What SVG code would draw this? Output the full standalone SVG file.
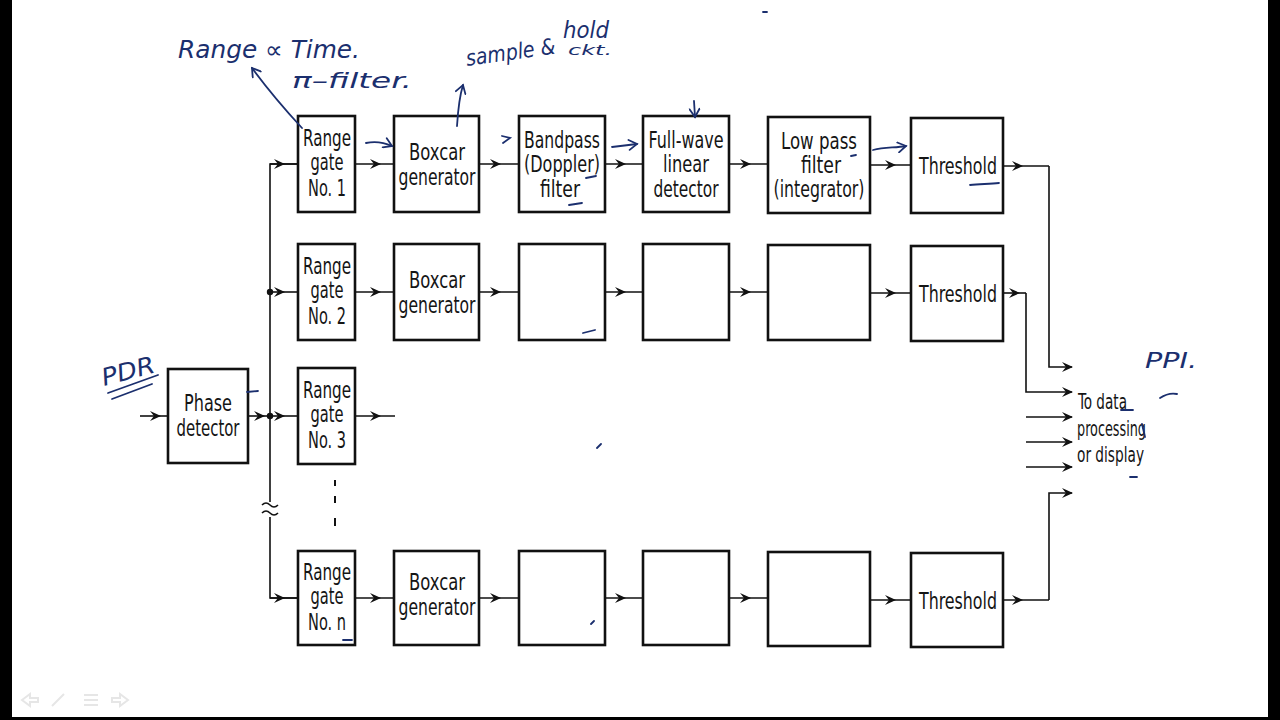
<svg xmlns="http://www.w3.org/2000/svg" width="1280" height="720" viewBox="0 0 1280 720">
<defs>
<style>
.bx{fill:#fff;stroke:#111;stroke-width:2.6}
.ln{fill:none;stroke:#111;stroke-width:1.6}
.t{font-family:"DejaVu Sans Condensed","Liberation Sans Narrow","Liberation Sans",sans-serif;font-size:23px;fill:#151515;text-anchor:middle}
.o{font-family:"DejaVu Sans Condensed","Liberation Sans Narrow","Liberation Sans",sans-serif;font-size:21px;fill:#151515}
.h{font-family:"DejaVu Sans","Liberation Sans",sans-serif;font-style:italic;fill:#1b2f6e}
.hs{fill:none;stroke:#1b2f6e;stroke-width:1.8;stroke-linecap:round}
</style>
<marker id="ah" viewBox="-12 -6 14 12" refX="0" refY="0" markerWidth="14" markerHeight="12" orient="auto" markerUnits="userSpaceOnUse">
<path d="M1,0 L-10,-5 L-6,0 L-10,5 Z" fill="#111"/>
</marker>
<marker id="hah" viewBox="-10 -6 12 12" refX="0" refY="0" markerWidth="12" markerHeight="12" orient="auto" markerUnits="userSpaceOnUse">
<path d="M-8,-5 L0,0 L-8,5" fill="none" stroke="#1b2f6e" stroke-width="1.8" stroke-linecap="round"/>
</marker>
</defs>
<rect x="0" y="0" width="1280" height="720" fill="#000"/>
<rect x="12" y="0" width="1256" height="717" fill="#fff"/>

<g id="connectors">
<path class="ln" d="M140,416 L160,416 L168,416" marker-mid="url(#ah)"/>
<path class="ln" d="M248,416 L264,416 L270,416" marker-mid="url(#ah)"/>
<path class="ln" d="M270,502 L270,164 L298,164"/>
<path class="ln" d="M270,164 L284,164 L298,164" marker-mid="url(#ah)"/>
<path class="ln" d="M270,517 L270,598 L298,598"/>
<path class="ln" d="M270,598 L284,598 L298,598" marker-mid="url(#ah)"/>
<path class="ln" d="M262,505 q4,-4 8,0 q4,4 8,0 M262,513 q4,-4 8,0 q4,4 8,0"/>
<path class="ln" d="M270,292 L284,292 L298,292" marker-mid="url(#ah)"/>
<path class="ln" d="M270,416 L284,416 L298,416" marker-mid="url(#ah)"/>
<circle cx="270" cy="292" r="3.2" fill="#111"/>
<circle cx="270" cy="416" r="3.2" fill="#111"/>
<path class="ln" d="M355,416 L380,416 L395,416" marker-mid="url(#ah)"/>
<path d="M335,480 v6 M335,496 v7 M335,518 v8" stroke="#111" stroke-width="2"/>
<!-- row 1 -->
<path class="ln" d="M355,164 L380,164 L394,164" marker-mid="url(#ah)"/>
<path class="ln" d="M479,164 L500,164 L519,164" marker-mid="url(#ah)"/>
<path class="ln" d="M605,164 L625,164 L643,164" marker-mid="url(#ah)"/>
<path class="ln" d="M729,164 L750,164 L768,164" marker-mid="url(#ah)"/>
<path class="ln" d="M870,165 L895,165 L911,165" marker-mid="url(#ah)"/>
<path class="ln" d="M1003,166 L1022,166 L1049,166" marker-mid="url(#ah)"/>
<path class="ln" d="M1049,166 L1049,367 L1072,367" marker-end="url(#ah)"/>
<!-- row 2 -->
<path class="ln" d="M355,292 L380,292 L394,292" marker-mid="url(#ah)"/>
<path class="ln" d="M479,292 L500,292 L519,292" marker-mid="url(#ah)"/>
<path class="ln" d="M605,292 L625,292 L643,292" marker-mid="url(#ah)"/>
<path class="ln" d="M729,292 L750,292 L768,292" marker-mid="url(#ah)"/>
<path class="ln" d="M870,293 L895,293 L911,293" marker-mid="url(#ah)"/>
<path class="ln" d="M1003,293 L1019,293 L1026,293" marker-mid="url(#ah)"/>
<path class="ln" d="M1026,293 L1026,392 L1072,392" marker-end="url(#ah)"/>
<!-- free outputs -->
<path class="ln" d="M1026,417 L1072,417" marker-end="url(#ah)"/>
<path class="ln" d="M1026,442 L1072,442" marker-end="url(#ah)"/>
<path class="ln" d="M1026,467 L1072,467" marker-end="url(#ah)"/>
<!-- row n -->
<path class="ln" d="M355,598 L380,598 L394,598" marker-mid="url(#ah)"/>
<path class="ln" d="M479,598 L500,598 L519,598" marker-mid="url(#ah)"/>
<path class="ln" d="M605,598 L625,598 L643,598" marker-mid="url(#ah)"/>
<path class="ln" d="M729,598 L750,598 L768,598" marker-mid="url(#ah)"/>
<path class="ln" d="M870,600 L895,600 L911,600" marker-mid="url(#ah)"/>
<path class="ln" d="M1003,600 L1022,600 L1049,600" marker-mid="url(#ah)"/>
<path class="ln" d="M1049,600 L1049,493 L1072,493" marker-end="url(#ah)"/>
</g>

<g id="phase-detector">
<rect class="bx" x="168" y="369" width="80" height="94"/>
<text class="t" x="208" y="411" textLength="48" lengthAdjust="spacingAndGlyphs">Phase</text>
<text class="t" x="208" y="436" textLength="63" lengthAdjust="spacingAndGlyphs">detector</text>
</g>

<g id="range-gate-1">
<rect class="bx" x="298" y="116" width="57" height="96"/>
<text class="t" x="327" y="146" textLength="48" lengthAdjust="spacingAndGlyphs">Range</text>
<text class="t" x="327" y="170" textLength="33" lengthAdjust="spacingAndGlyphs">gate</text>
<text class="t" x="327" y="196" textLength="38" lengthAdjust="spacingAndGlyphs">No. 1</text>
</g>
<g id="boxcar-1">
<rect class="bx" x="394" y="116" width="85" height="96"/>
<text class="t" x="437" y="160" textLength="56" lengthAdjust="spacingAndGlyphs">Boxcar</text>
<text class="t" x="437" y="185" textLength="77" lengthAdjust="spacingAndGlyphs">generator</text>
</g>
<g id="bandpass-1">
<rect class="bx" x="519" y="116" width="86" height="96"/>
<text class="t" x="562" y="148" textLength="76" lengthAdjust="spacingAndGlyphs">Bandpass</text>
<text class="t" x="562" y="172" textLength="76" lengthAdjust="spacingAndGlyphs">(Doppler)</text>
<text class="t" x="560" y="197" textLength="40" lengthAdjust="spacingAndGlyphs">filter</text>
</g>
<g id="fullwave-1">
<rect class="bx" x="643" y="116" width="86" height="96"/>
<text class="t" x="686" y="148" textLength="75" lengthAdjust="spacingAndGlyphs">Full-wave</text>
<text class="t" x="686" y="172" textLength="46" lengthAdjust="spacingAndGlyphs">linear</text>
<text class="t" x="686" y="197" textLength="65" lengthAdjust="spacingAndGlyphs">detector</text>
</g>
<g id="lowpass-1">
<rect class="bx" x="768" y="117" width="102" height="96"/>
<text class="t" x="819" y="149" textLength="76" lengthAdjust="spacingAndGlyphs">Low pass</text>
<text class="t" x="821" y="173" textLength="40" lengthAdjust="spacingAndGlyphs">filter</text>
<text class="t" x="819" y="197" textLength="91" lengthAdjust="spacingAndGlyphs">(integrator)</text>
</g>
<g id="threshold-1">
<rect class="bx" x="911" y="118" width="92" height="95"/>
<text class="t" x="958" y="174" textLength="78" lengthAdjust="spacingAndGlyphs">Threshold</text>
</g>

<g id="range-gate-2">
<rect class="bx" x="298" y="244" width="57" height="96"/>
<text class="t" x="327" y="274" textLength="48" lengthAdjust="spacingAndGlyphs">Range</text>
<text class="t" x="327" y="298" textLength="33" lengthAdjust="spacingAndGlyphs">gate</text>
<text class="t" x="327" y="324" textLength="38" lengthAdjust="spacingAndGlyphs">No. 2</text>
</g>
<g id="boxcar-2">
<rect class="bx" x="394" y="244" width="85" height="96"/>
<text class="t" x="437" y="288" textLength="56" lengthAdjust="spacingAndGlyphs">Boxcar</text>
<text class="t" x="437" y="313" textLength="77" lengthAdjust="spacingAndGlyphs">generator</text>
</g>
<g id="bandpass-2"><rect class="bx" x="519" y="244" width="86" height="96"/></g>
<g id="fullwave-2"><rect class="bx" x="643" y="244" width="86" height="96"/></g>
<g id="lowpass-2"><rect class="bx" x="768" y="245" width="102" height="95"/></g>
<g id="threshold-2">
<rect class="bx" x="911" y="246" width="92" height="95"/>
<text class="t" x="958" y="302" textLength="78" lengthAdjust="spacingAndGlyphs">Threshold</text>
</g>

<g id="range-gate-3">
<rect class="bx" x="298" y="368" width="57" height="96"/>
<text class="t" x="327" y="398" textLength="48" lengthAdjust="spacingAndGlyphs">Range</text>
<text class="t" x="327" y="422" textLength="33" lengthAdjust="spacingAndGlyphs">gate</text>
<text class="t" x="327" y="448" textLength="38" lengthAdjust="spacingAndGlyphs">No. 3</text>
</g>

<g id="range-gate-n">
<rect class="bx" x="298" y="551" width="57" height="94"/>
<text class="t" x="327" y="580" textLength="48" lengthAdjust="spacingAndGlyphs">Range</text>
<text class="t" x="327" y="604" textLength="33" lengthAdjust="spacingAndGlyphs">gate</text>
<text class="t" x="327" y="630" textLength="38" lengthAdjust="spacingAndGlyphs">No. n</text>
</g>
<g id="boxcar-n">
<rect class="bx" x="394" y="551" width="85" height="94"/>
<text class="t" x="437" y="590" textLength="56" lengthAdjust="spacingAndGlyphs">Boxcar</text>
<text class="t" x="437" y="615" textLength="77" lengthAdjust="spacingAndGlyphs">generator</text>
</g>
<g id="bandpass-n"><rect class="bx" x="519" y="551" width="86" height="94"/></g>
<g id="fullwave-n"><rect class="bx" x="643" y="551" width="86" height="94"/></g>
<g id="lowpass-n"><rect class="bx" x="768" y="552" width="102" height="94"/></g>
<g id="threshold-n">
<rect class="bx" x="911" y="553" width="92" height="94"/>
<text class="t" x="958" y="609" textLength="78" lengthAdjust="spacingAndGlyphs">Threshold</text>
</g>

<g id="output-label">
<text class="o" x="1078" y="409" textLength="49" lengthAdjust="spacingAndGlyphs">To data</text>
<text class="o" x="1077" y="436" textLength="69" lengthAdjust="spacingAndGlyphs">processing</text>
<text class="o" x="1077" y="462" textLength="67" lengthAdjust="spacingAndGlyphs">or display</text>
</g>

<g id="annotations">
<text class="h" x="178" y="58" font-size="24" textLength="182" lengthAdjust="spacingAndGlyphs">Range ∝ Time.</text>
<path class="hs" d="M302,128 C290,115 272,95 252,68" marker-end="url(#hah)"/>
<text class="h" x="292" y="88" font-size="22" textLength="120" lengthAdjust="spacingAndGlyphs">π–filter.</text>
<text class="h" x="467" y="66" font-size="22" textLength="90" lengthAdjust="spacingAndGlyphs" transform="rotate(-8 467 66)">sample &amp;</text>
<text class="h" x="563" y="38" font-size="23" textLength="46" lengthAdjust="spacingAndGlyphs">hold</text>
<text class="h" x="568" y="55" font-size="14" textLength="44" lengthAdjust="spacingAndGlyphs">ckt.</text>
<path class="hs" d="M457,126 C458,110 459,98 463,85" marker-end="url(#hah)"/>
<path class="hs" d="M366,143 C375,141 383,142 392,146" marker-end="url(#hah)"/>
<path class="hs" d="M502,136 L510,138 L503,143"/>
<path class="hs" d="M612,147 L637,144" marker-end="url(#hah)"/>
<path class="hs" d="M694,101 L695,117" marker-end="url(#hah)"/>
<path class="hs" d="M873,150 C885,147 895,148 906,146" marker-end="url(#hah)"/>
<path class="hs" d="M569,205 L582,203 M586,178 L596,176 M851,156 L856,155 M970,185 C980,184 990,184 999,183"/>
<text class="h" x="104" y="386" font-size="24" textLength="54" lengthAdjust="spacingAndGlyphs" transform="rotate(-15 104 386)">PDR</text>
<path class="hs" d="M108,393 L158,375 M112,399 L152,384"/>
<path class="hs" d="M247,392 L258,391 M583,333 L595,330 M597,448 L601,444 M591,624 L594,621 M343,640 L352,640"/>
<path class="hs" d="M1121,410 L1133,410 M1142,424 L1145,437 M1130,477 L1137,477 M1160,398 C1166,394 1172,393 1177,394"/>
<text class="h" x="1145" y="368" font-size="22" textLength="52" lengthAdjust="spacingAndGlyphs">PPI.</text>
<path class="hs" d="M763,12 L767,12"/>
</g>

<g id="player-icons" fill="none" stroke="#e6e6e6" stroke-width="2">
<path d="M22,700 l8,-6 v4 h8 v4 h-8 v4 z"/>
<path d="M52,706 l12,-12"/>
<path d="M84,695 h14 M84,700 h14 M84,705 h14"/>
<path d="M128,700 l-8,-6 v4 h-8 v4 h8 v4 z"/>
</g>
</svg>
